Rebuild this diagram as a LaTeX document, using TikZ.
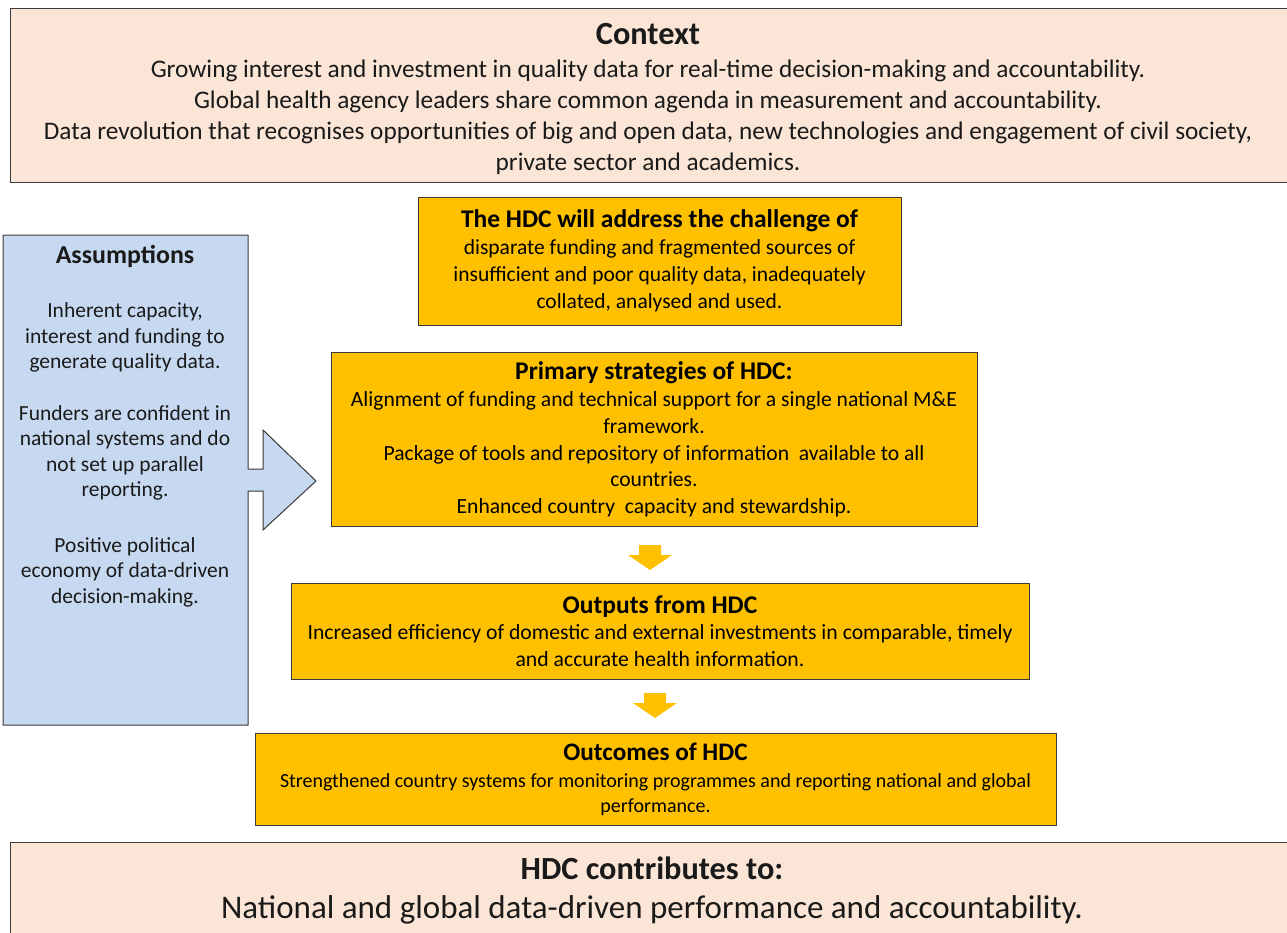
\documentclass[tikz,border=0pt]{standalone}
\usepackage{fontspec}
\setmainfont{Carlito}
\usetikzlibrary{calc}
\definecolor{peach}{HTML}{FBE5D6}
\definecolor{hdcorange}{HTML}{FFC000}
\definecolor{assumblue}{HTML}{C6D9F1}
\definecolor{edge}{HTML}{3A3A3A}
\definecolor{ink}{HTML}{1A1A1A}
\tikzset{
  widebox/.style={draw=edge, line width=1.3pt, fill=peach, anchor=north west, inner sep=0pt},
  obox/.style={draw=edge, line width=1pt, fill=hdcorange, align=center, inner sep=0pt, text=black},
  txt/.style={align=center, inner sep=0pt, text=ink},
  downarrow/.style={fill=hdcorange, draw=none},
}
\newcommand{\ttl}{\fontsize{25.5}{27}\selectfont\bfseries}
\begin{document}
\begin{tikzpicture}[x=1pt,y=-1pt]
\clip (0,0) rectangle (1287,932);
\fill[white] (0,0) rectangle (1287,932);
% context
\node[widebox, minimum width=1290pt, minimum height=174pt] (ctx) at (10,8) {};
\node[txt, font=\fontsize{25.3}{31}\selectfont] (ctxtext) at (648,99)
 {{\fontsize{32.3}{30}\selectfont\bfseries Context}\\[2pt]
  Growing interest and investment in quality data for real-time decision-making and accountability.\\
  Global health agency leaders share common agenda in measurement and accountability.\\
  Data revolution that recognises opportunities of big and open data, new technologies and engagement of civil society,\\
  private sector and academics.};
% assumptions
\filldraw[fill=assumblue, draw=edge, line width=1pt]
  (3,235) -- (248,235) -- (248,469) -- (263,469) -- (263,430) -- (316,481)
  -- (263,530) -- (263,491) -- (248,491) -- (248,725) -- (3,725) -- cycle;
\node[txt, font=\fontsize{21.5}{25.5}\selectfont] (assum) at (125,426)
 {{\fontsize{25.9}{25}\selectfont\bfseries Assumptions}\\[29pt]
  Inherent capacity,\\ interest and funding to\\ generate quality data.\\[26pt]
  Funders are confident in\\ national systems and do\\ not set up parallel\\ reporting.\\[30pt]
  Positive political\\ economy of data-driven\\ decision-making.};
% orange boxes
\node[obox, minimum width=483pt, minimum height=128pt, font=\fontsize{21.5}{27}\selectfont] (chal) at (659.5,261)
 {{\ttl The HDC will address the challenge of}\\
  disparate funding and fragmented sources of\\
  insufficient and poor quality data, inadequately\\
  collated, analysed and used.};
\node[obox, minimum width=646pt, minimum height=174pt, font=\fontsize{21.6}{26.6}\selectfont] (strat) at (654,439)
 {{\ttl Primary strategies of HDC:}\\[1pt]
  Alignment of funding and technical support for a single national M\&E\\
  framework.\\
  Package of tools and repository of information\ \ available to all\\
  countries.\\
  Enhanced country\ \ capacity and stewardship.};
\node[obox, minimum width=738pt, minimum height=96pt, font=\fontsize{21.7}{26.5}\selectfont] (outp) at (660,631)
 {{\ttl Outputs from HDC}\\
  Increased efficiency of domestic and external investments in comparable, timely\\
  and accurate health information.};
\node[obox, minimum width=801pt, minimum height=92pt, font=\fontsize{20}{25}\selectfont] (outc) at (655.5,779)
 {{\fontsize{25.2}{27}\selectfont\bfseries Outcomes of HDC}\\[2pt]
  Strengthened country systems for monitoring programmes and reporting national and global\\
  performance.};
% bottom
\node[widebox, minimum width=1290pt, minimum height=100pt] (contrib) at (10,842) {};
\node[txt, font=\fontsize{33}{39}\selectfont] (contribtext) at (652,890)
 {{\fontsize{32.3}{39}\selectfont\bfseries HDC contributes to:}\\
  National and global data-driven performance and accountability.};
% down arrows
\coordinate (a1) at (650,545);
\fill[downarrow] ($(a1)+(-11,0)$) -- ($(a1)+(11,0)$) -- ($(a1)+(11,10)$) -- ($(a1)+(22,10)$)
  -- ($(a1)+(0,25)$) -- ($(a1)+(-22,10)$) -- ($(a1)+(-11,10)$) -- cycle;
\coordinate (a2) at (655,693);
\fill[downarrow] ($(a2)+(-11,0)$) -- ($(a2)+(11,0)$) -- ($(a2)+(11,10)$) -- ($(a2)+(22,10)$)
  -- ($(a2)+(0,25)$) -- ($(a2)+(-22,10)$) -- ($(a2)+(-11,10)$) -- cycle;
\end{tikzpicture}
\end{document}
